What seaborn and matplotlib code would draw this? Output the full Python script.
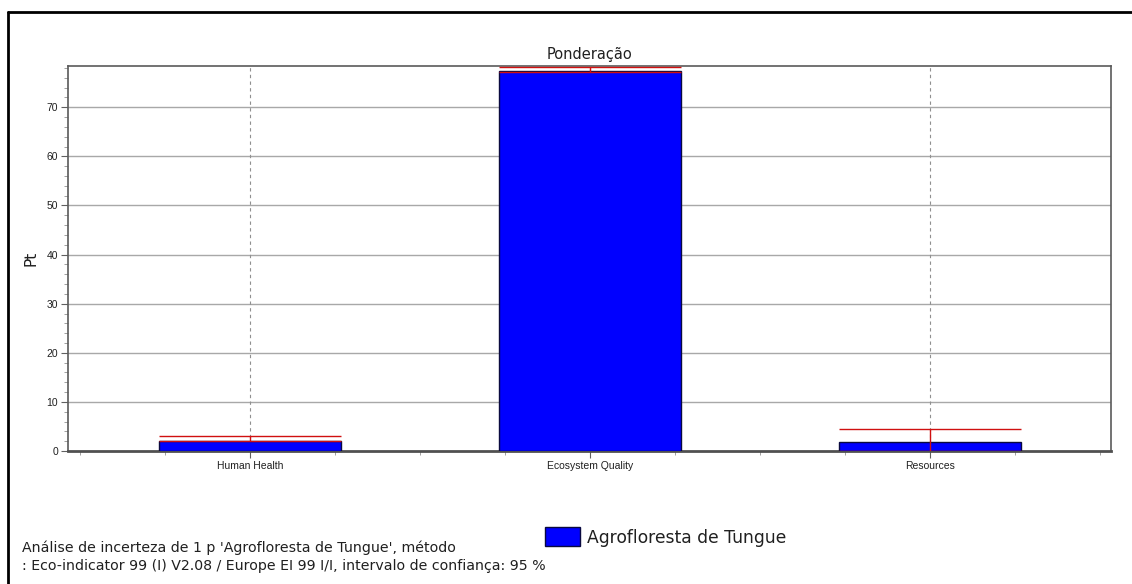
import matplotlib
matplotlib.use("Agg")
import matplotlib.pyplot as plt
from matplotlib.lines import Line2D
from matplotlib.patches import Rectangle
from matplotlib.ticker import MultipleLocator
import numpy as np
import pandas as pd
import seaborn as sns

# Weighted scores (Pt) and 95 % confidence bounds per damage category
categories = ["Human Health", "Ecosystem Quality", "Resources"]
scores = [2.1, 77.3, 1.9]
lower_bound = [1.95, 77.15, 0.1]
upper_bound = [3.0, 78.1, 4.55]
series_name = "Agrofloresta de Tungue"
chart_title = "Ponderação"
y_label = "Pt"
y_ticks = [0, 10, 20, 30, 40, 50, 60, 70]
caption_lines = [
    "Análise de incerteza de 1 p 'Agrofloresta de Tungue', método",
    ": Eco-indicator 99 (I) V2.08 / Europe EI 99 I/I, intervalo de confiança: 95 %",
]

sns.set_theme(style="white")
plt.rcParams["font.family"] = ["Liberation Sans", "DejaVu Sans"]

df = pd.DataFrame({"category": categories, "score": scores})

fig = plt.figure(figsize=(11.32, 5.84), dpi=100)
W, H = 1132, 584
ax = fig.add_axes([68 / W, 1 - 451 / H, (1111 - 68) / W, (451 - 66) / H])

bar_width = 0.535
sns.barplot(data=df, x="category", y="score", color="#0000ff", saturation=1,
            width=bar_width, edgecolor="#0a0a40", linewidth=1.0, ax=ax, zorder=3)

# Confidence interval markers
xs = np.arange(len(categories))
ax.hlines(lower_bound, xs - bar_width / 2, xs + bar_width / 2, colors="#d01010", lw=1.0, zorder=4)
ax.hlines(upper_bound, xs - bar_width / 2, xs + bar_width / 2, colors="#d01010", lw=1.0, zorder=4)
ax.vlines(xs, lower_bound, upper_bound, colors="#d01010", lw=1.0, zorder=4)

ax.set_xlim(-0.535, 2.532)
ax.set_ylim(0, 78.4)

# Grid: solid horizontal, dashed vertical
for yv in y_ticks[1:]:
    ax.axhline(yv, color="#a8a8a8", lw=1.0, zorder=1)
for xv in xs:
    ax.axvline(xv, color="#909090", lw=0.8, ls=(0, (3, 3)), zorder=1)

ax.set_yticks(y_ticks)
ax.yaxis.set_minor_locator(MultipleLocator(2))
ax.xaxis.set_minor_locator(MultipleLocator(0.25))
ax.tick_params(axis="both", which="major", direction="out", length=5, width=0.8,
               color="#606060", labelsize=7.5, labelcolor="#202020", pad=2)
ax.tick_params(axis="both", which="minor", direction="out", length=3, width=0.6,
               color="#909090")
ax.tick_params(axis="x", which="both", bottom=True)
ax.tick_params(axis="y", which="both", left=True)
ax.set_xlabel("")
ax.set_ylabel(y_label, fontsize=11, color="#202020", labelpad=6,
              family=["DejaVu Sans"])
ax.set_title(chart_title, fontsize=10.5, color="#202020", pad=5,
             family=["DejaVu Sans"])

for name, sp in ax.spines.items():
    sp.set_visible(True)
    sp.set_color("#5a5a5a")
    sp.set_linewidth(1.2)
ax.spines["bottom"].set_linewidth(2.0)
ax.spines["bottom"].set_color("#505050")

# Legend
leg = ax.legend(handles=[Rectangle((0, 0), 1, 1, facecolor="#0000ff", edgecolor="#0a0a40")],
                labels=[series_name], loc="center", bbox_to_anchor=(666 / W, 1 - 537 / H),
                bbox_transform=fig.transFigure, frameon=False,
                handlelength=2.0, handleheight=1.3, handletextpad=0.45,
                prop={"family": ["DejaVu Sans"], "size": 12.3})
for t in leg.get_texts():
    t.set_color("#202020")

# Caption
fig.text(22 / W, 1 - 548 / H, caption_lines[0], fontsize=10.2, color="#202020",
         va="center", ha="left", family=["DejaVu Sans"])
fig.text(22 / W, 1 - 566 / H, caption_lines[1], fontsize=10.2, color="#202020",
         va="center", ha="left", family=["DejaVu Sans"])

# Outer frame (left and top edges)
fig.add_artist(Line2D([8 / W, 8 / W], [0, 1 - 11.5 / H], transform=fig.transFigure,
                      color="black", lw=2))
fig.add_artist(Line2D([8 / W, 1], [1 - 11.5 / H, 1 - 11.5 / H], transform=fig.transFigure,
                      color="black", lw=2))

fig.savefig("out.png", dpi=100)
